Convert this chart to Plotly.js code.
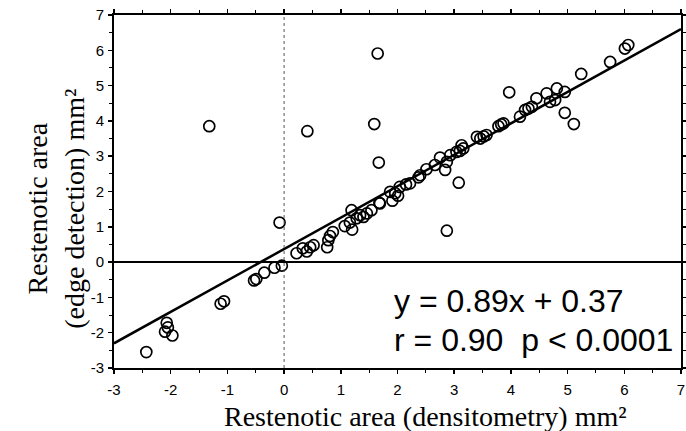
<!DOCTYPE html>
<html>
<head>
<meta charset="utf-8">
<script src="https://cdn.plot.ly/plotly-3.0.1.min.js"></script>
<style>html,body{margin:0;padding:0;background:#fff}#chart{width:686px;height:431px}</style>
</head>
<body>
<div id="chart"></div>
<script>
// Densitometry (x) vs edge detection (y), mm^2
const densitometry = [
  -2.43,-2.07,-2.05,-2.10,-1.97,-1.12,-1.06,-0.53,-0.49,-0.35,-0.17,-0.04,
  -0.08,-1.32,0.41,1.59,1.65,1.67,2.87,3.08,3.97,4.95,5.11,5.24,5.75,6.01,6.07,
  0.22,0.33,0.40,0.46,0.52,0.76,0.78,0.81,0.86,
  1.07,1.16,1.20,1.19,1.28,1.34,1.40,1.46,1.54,1.69,1.68,1.87,1.91,1.96,2.01,2.04,2.15,2.22,
  2.37,2.40,2.51,2.66,2.75,2.84,2.87,2.93,3.04,3.10,3.16,3.13,
  3.40,3.46,3.52,3.57,3.78,3.83,3.87,4.16,4.25,4.31,4.37,
  4.45,4.63,4.69,4.78,4.81,4.95
];
const edgeDetection = [
  -2.55,-1.72,-1.85,-1.97,-2.08,-1.18,-1.11,-0.52,-0.48,-0.30,-0.16,-0.10,
  1.12,3.85,3.71,3.91,5.91,2.82,0.89,2.25,4.81,4.23,3.91,5.33,5.67,6.05,6.15,
  0.25,0.39,0.30,0.42,0.48,0.42,0.62,0.74,0.85,
  1.02,1.12,0.92,1.47,1.24,1.33,1.28,1.38,1.47,1.66,1.68,1.99,1.74,1.95,1.88,2.13,2.20,2.23,
  2.40,2.46,2.63,2.75,2.96,2.61,2.84,3.03,3.12,3.15,3.22,3.31,
  3.55,3.50,3.56,3.60,3.85,3.90,3.93,4.12,4.31,4.35,4.40,
  4.64,4.78,4.54,4.59,4.92,4.82
];
const slope = 0.89;
const intercept = 0.37;
const fitRange = [-3, 7];
const axisRange = [-3, 7];
const tickValues = [-3,-2,-1,0,1,2,3,4,5,6,7];
const xTitle = "Restenotic area (densitometry) mm²";
const yTitle = "Restenotic area<br>(edge detection) mm²";
const eqText = "y = 0.89x + 0.37";
const statText = "r = 0.90  p < 0.0001";

const fitY = fitRange.map(v => slope * v + intercept);

const serif = "Liberation Serif, Times New Roman, serif";
const sans = "Liberation Sans, Arial, sans-serif";

const axisCommon = {
  range: axisRange,
  tickvals: tickValues,
  ticktext: tickValues.map(String),
  showgrid: false,
  zeroline: false,
  showline: true,
  linecolor: '#000',
  linewidth: 2,
  mirror: 'ticks',
  ticks: 'outside',
  ticklen: 4,
  tickwidth: 1.5,
  tickcolor: '#000',
  minor: {dtick: 0.5, ticks: 'outside', ticklen: 3, tickcolor: '#000', tickwidth: 1},
  tickfont: {family: sans, size: 15, color: '#000'}
};

const data = [
  {
    x: densitometry, y: edgeDetection, type: 'scatter', mode: 'markers',
    marker: {symbol: 'circle-open', size: 11, color: '#000', line: {width: 1.7, color: '#000'}},
    hoverinfo: 'skip'
  },
  {
    x: fitRange, y: fitY, type: 'scatter', mode: 'lines',
    line: {color: '#000', width: 2.5}, hoverinfo: 'skip'
  }
];

const layout = {
  width: 686, height: 431,
  margin: {l: 114, r: 5, t: 15, b: 63},
  paper_bgcolor: '#fff', plot_bgcolor: '#fff',
  showlegend: false,
  xaxis: Object.assign({}, axisCommon, {ticklabelstandoff: 3}),
  yaxis: Object.assign({}, axisCommon, {ticklabelstandoff: 1}),
  shapes: [
    {type: 'line', xref: 'x', yref: 'y', x0: axisRange[0], x1: axisRange[1], y0: 0, y1: 0,
     line: {color: '#000', width: 2}},
    {type: 'line', xref: 'x', yref: 'y', x0: 0, x1: 0, y0: axisRange[0], y1: axisRange[1],
     line: {color: '#555', width: 1, dash: 'dot'}}
  ],
  annotations: [
    {xref: 'paper', yref: 'paper', x: 0.49, y: 0.19, xanchor: 'left', yanchor: 'middle',
     text: eqText, showarrow: false, font: {family: sans, size: 32, color: '#000'}},
    {xref: 'paper', yref: 'paper', x: 0.49, y: 0.08, xanchor: 'left', yanchor: 'middle',
     text: statText, showarrow: false, font: {family: sans, size: 32, color: '#000'}},
    {xref: 'paper', yref: 'paper', x: 0.55, y: -0.138, xanchor: 'center', yanchor: 'middle',
     text: xTitle, showarrow: false, font: {family: serif, size: 28, color: '#000'}},
    {xref: 'paper', yref: 'paper', x: -0.103, y: 0.45, xanchor: 'center', yanchor: 'middle',
     textangle: -90, text: yTitle, showarrow: false, font: {family: serif, size: 28, color: '#000'}}
  ]
};

Plotly.newPlot('chart', data, layout, {staticPlot: true, displayModeBar: false});
</script>
</body>
</html>
